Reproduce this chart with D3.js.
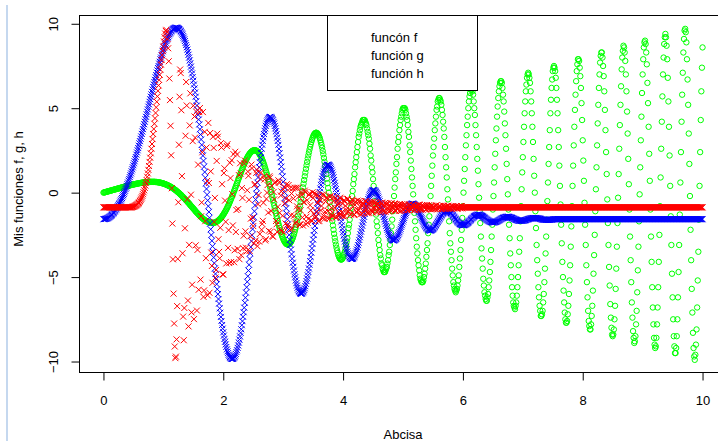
<!DOCTYPE html>
<html>
<head>
<meta charset="utf-8">
<script src="https://cdn.jsdelivr.net/npm/d3@7"></script>
<style>
  body { margin: 0; background: #fff; }
  svg { display: block; font-family: "Liberation Sans", Arial, sans-serif; }
</style>
</head>
<body>
<div id="chart"></div>
<script>
// x runs from 0 to 10, every series sampled every 0.01 (one row per 0.1 below)
const xStep = 0.01;

// función g (green circles)
const gValues = [
  0,.01,.02,.03,.04,.05,.06,.07,.08,.09,
  .1,.11,.12,.13,.14,.15,.16,.17,.18,.19,
  .2,.21,.22,.23,.24,.25,.26,.27,.28,.29,
  .3,.31,.32,.33,.34,.35,.36,.37,.38,.39,
  .39,.4,.41,.42,.43,.44,.45,.46,.47,.48,
  .48,.49,.5,.51,.52,.52,.53,.54,.55,.55,
  .56,.57,.57,.58,.59,.59,.6,.6,.61,.61,
  .62,.62,.63,.63,.63,.63,.64,.64,.64,.64,
  .64,.64,.64,.64,.64,.64,.64,.63,.63,.63,
  .62,.62,.61,.6,.6,.59,.58,.57,.56,.55,
  .54,.53,.52,.5,.49,.47,.46,.44,.42,.41,
  .39,.37,.35,.33,.31,.28,.26,.23,.21,.18,
  .16,.13,.1,.07,.04,.01,-.02,-.05,-.09,-.12,
  -.15,-.19,-.23,-.26,-.3,-.34,-.37,-.41,-.45,-.49,
  -.53,-.57,-.61,-.65,-.69,-.74,-.78,-.82,-.86,-.9,
  -.94,-.98,-1.02,-1.07,-1.11,-1.15,-1.19,-1.22,-1.26,-1.3,
  -1.34,-1.37,-1.41,-1.44,-1.48,-1.51,-1.54,-1.57,-1.6,-1.62,
  -1.65,-1.67,-1.69,-1.71,-1.73,-1.74,-1.76,-1.77,-1.78,-1.79,
  -1.79,-1.79,-1.79,-1.79,-1.79,-1.78,-1.77,-1.75,-1.74,-1.72,
  -1.7,-1.67,-1.64,-1.61,-1.58,-1.54,-1.5,-1.46,-1.41,-1.36,
  -1.31,-1.25,-1.19,-1.13,-1.07,-1,-.93,-.86,-.78,-.71,
  -.63,-.54,-.46,-.37,-.28,-.19,-.1,-.01,.09,.18,
  .28,.38,.48,.57,.67,.77,.87,.97,1.06,1.16,
  1.26,1.35,1.44,1.53,1.62,1.7,1.78,1.86,1.94,2.01,
  2.08,2.14,2.2,2.26,2.31,2.35,2.39,2.43,2.46,2.48,
  2.5,2.51,2.51,2.51,2.5,2.49,2.47,2.44,2.4,2.36,
  2.31,2.25,2.19,2.12,2.04,1.96,1.87,1.77,1.67,1.56,
  1.44,1.32,1.2,1.07,.93,.79,.65,.5,.35,.19,
  .04,-.12,-.28,-.44,-.6,-.76,-.92,-1.07,-1.23,-1.38,
  -1.53,-1.68,-1.82,-1.96,-2.09,-2.22,-2.33,-2.44,-2.55,-2.64,
  -2.73,-2.81,-2.88,-2.94,-2.99,-3.03,-3.05,-3.07,-3.07,-3.07,
  -3.05,-3.02,-2.97,-2.92,-2.85,-2.77,-2.68,-2.57,-2.46,-2.33,
  -2.19,-2.05,-1.89,-1.72,-1.55,-1.36,-1.17,-.97,-.77,-.56,
  -.35,-.13,.09,.31,.53,.75,.97,1.19,1.41,1.62,
  1.82,2.02,2.21,2.39,2.56,2.72,2.87,3,3.12,3.23,
  3.33,3.4,3.47,3.51,3.54,3.55,3.54,3.51,3.47,3.41,
  3.32,3.23,3.11,2.97,2.82,2.66,2.47,2.27,2.06,1.83,
  1.6,1.35,1.1,.83,.56,.28,0,-.29,-.57,-.85,
  -1.13,-1.41,-1.68,-1.94,-2.2,-2.44,-2.67,-2.88,-3.08,-3.26,
  -3.42,-3.57,-3.69,-3.79,-3.87,-3.93,-3.96,-3.96,-3.95,-3.9,
  -3.83,-3.7,-3.6,-3.5,-3.3,-3.1,-2.9,-2.7,-2.4,-2.1,
  -1.9,-1.6,-1.2,-.9,-.6,-.2,.1,.5,.8,1.1,
  1.5,1.8,2.1,2.4,2.7,3,3.3,3.5,3.7,3.9,
  4,4.1,4.2,4.3,4.3,4.3,4.3,4.2,4.1,4,
  3.8,3.6,3.4,3.2,2.9,2.6,2.2,1.9,1.5,1.2,
  .8,.4,0,-.5,-.9,-1.3,-1.7,-2,-2.4,-2.8,
  -3.1,-3.4,-3.7,-3.9,-4.2,-4.3,-4.5,-4.6,-4.7,-4.7,
  -4.7,-4.6,-4.5,-4.4,-4.2,-4,-3.7,-3.5,-3.1,-2.8,
  -2.4,-2,-1.6,-1.1,-.7,-.2,.3,.8,1.2,1.7,
  2.1,2.6,3,3.3,3.7,4,4.3,4.5,4.7,4.9,
  5,5,5,5,4.9,4.7,4.5,4.3,4,3.6,
  3.3,2.8,2.4,1.9,1.4,.9,.4,-.1,-.7,-1.2,
  -1.7,-2.2,-2.7,-3.2,-3.6,-4,-4.3,-4.6,-4.9,-5.1,
  -5.2,-5.3,-5.3,-5.3,-5.2,-5,-4.8,-4.5,-4.2,-3.8,
  -3.4,-3,-2.4,-1.9,-1.4,-.8,-.2,.4,1,1.6,
  2.2,2.7,3.2,3.7,4.1,4.5,4.9,5.1,5.4,5.5,
  5.6,5.6,5.5,5.4,5.2,4.9,4.6,4.2,3.8,3.3,
  2.7,2.1,1.5,.9,.2,-.4,-1.1,-1.7,-2.4,-3,
  -3.5,-4,-4.5,-4.9,-5.3,-5.5,-5.7,-5.8,-5.9,-5.8,
  -5.7,-5.5,-5.2,-4.9,-4.4,-3.9,-3.4,-2.8,-2.2,-1.5,
  -.8,0,.7,1.4,2.1,2.8,3.4,4,4.5,5,
  5.4,5.7,5.9,6.1,6.1,6.1,6,5.8,5.4,5,
  4.6,4,3.4,2.7,2,1.3,.5,-.3,-1.1,-1.8,
  -2.6,-3.3,-3.9,-4.5,-5.1,-5.5,-5.9,-6.1,-6.3,-6.4,
  -6.4,-6.2,-6,-5.6,-5.2,-4.7,-4.1,-3.4,-2.6,-1.9,
  -1,-.2,.6,1.5,2.3,3.1,3.8,4.5,5.1,5.6,
  6,6.3,6.5,6.6,6.6,6.5,6.2,5.8,5.4,4.8,
  4.1,3.4,2.6,1.7,.8,-.1,-1,-1.9,-2.7,-3.6,
  -4.3,-5,-5.6,-6.1,-6.5,-6.7,-6.8,-6.9,-6.7,-6.5,
  -6.1,-5.6,-5,-4.3,-3.5,-2.7,-1.7,-.8,.2,1.2,
  2.1,3,3.9,4.7,5.4,6,6.4,6.8,7,7.1,
  7,6.8,6.5,6,5.4,4.7,3.9,3,2,1,
  0,-1.1,-2.1,-3.1,-4,-4.8,-5.6,-6.2,-6.7,-7,
  -7.3,-7.3,-7.2,-7,-6.5,-6,-5.3,-4.5,-3.6,-2.6,
  -1.6,-.5,.6,1.7,2.7,3.7,4.7,5.5,6.2,6.7,
  7.2,7.4,7.5,7.4,7.2,6.8,6.2,5.5,4.7,3.7,
  2.7,1.6,.4,-.7,-1.9,-3,-4.1,-5,-5.8,-6.5,
  -7.1,-7.5,-7.7,-7.7,-7.6,-7.2,-6.7,-6,-5.2,-4.3,
  -3.2,-2,-.8,.4,1.6,2.8,3.9,4.9,5.8,6.6,
  7.2,7.6,7.9,7.9,7.8,7.4,6.9,6.2,5.3,4.3,
  3.1,1.9,.7,-.6,-1.9,-3.1,-4.3,-5.3,-6.2,-7,
  -7.6,-7.9,-8.1,-8.1,-7.8,-7.3,-6.7,-5.8,-4.8,-3.7,
  -2.5,-1.1,.2,1.5,2.8,4.1,5.2,6.2,7,7.7,
  8.1,8.3,8.3,8,7.5,6.9,6,4.9,3.7,2.4,
  1.1,-.4,-1.8,-3.1,-4.4,-5.5,-6.6,-7.4,-8,-8.4,
  -8.5,-8.4,-8.1,-7.5,-6.7,-5.7,-4.5,-3.2,-1.8,-.3,
  1.1,2.6,4,5.2,6.3,7.3,8,8.4,8.7,8.6,
  8.3,7.8,7,6,4.8,3.5,2,.5,-1,-2.6,
  -4,-5.3,-6.5,-7.4,-8.2,-8.6,-8.9,-8.8,-8.5,-7.8,
  -7,-5.9,-4.6,-3.2,-1.7,-.1,1.5,3.1,4.5,5.9,
  7,7.9,8.6,8.9,9,8.8,8.3,7.6,6.5,5.3,
  3.9,2.3,.7,-1,-2.6,-4.1,-5.6,-6.8,-7.8,-8.6,
  -9,-9.2,-9.1,-8.6,-7.8,-6.8,-5.6,-4.1,-2.5,-.8,
  .9,2.6,4.2,5.7,7,8,8.8,9.2,9.4,9.2,
  8.7,7.9,6.8,5.4,3.9,2.2,.4,-1.4,-3.1,-4.8,
  -6.2,-7.5,-8.5,-9.1,-9.5,-9.5,-9.2,-8.5,-7.5,-6.2,
  -4.7,-3.1,-1.3,.6,2.4,4.2,5.8,7.1,8.3,9.1,
  9.6,9.7,9.5,8.9,7.9,6.7,5.2,3.5,1.7,-.2,
  -2.2,-4,-5.7,-7.1,-8.3,-9.2,-9.7,-9.9,-9.6,-9,
  -8.1,-6.8,-5.2,-3.5,-1.6,.4,2.4,4.3,6,7.4,
  8.6
];

// funcón f (blue crosses)
const fValues = [
  /* 0.0 */ -1.57,-1.57,-1.56,-1.56,-1.55,-1.54,-1.52,-1.51,-1.49,-1.46,
  /* 0.1 */ -1.44,-1.41,-1.38,-1.35,-1.31,-1.27,-1.23,-1.19,-1.14,-1.1,
  /* 0.2 */ -1.04,-.99,-.93,-.88,-.81,-.75,-.68,-.62,-.54,-.47,
  /* 0.3 */ -.39,-.32,-.23,-.15,-.07,.02,.11,.21,.3,.4,
  /* 0.4 */ .5,.6,.71,.81,.92,1.03,1.14,1.26,1.38,1.5,
  /* 0.5 */ 1.62,1.74,1.86,1.99,2.11,2.25,2.38,2.51,2.64,2.78,
  /* 0.6 */ 2.92,3.05,3.19,3.33,3.48,3.62,3.76,3.91,4.05,4.2,
  /* 0.7 */ 4.35,4.49,4.64,4.79,4.93,5.09,5.23,5.38,5.53,5.68,
  /* 0.8 */ 5.82,5.97,6.11,6.26,6.4,6.55,6.68,6.83,6.96,7.11,
  /* 0.9 */ 7.24,7.38,7.5,7.64,7.75,7.89,8,8.13,8.24,8.37,
  /* 1.0 */ 8.48,8.59,8.69,8.79,8.88,8.98,9.06,9.15,9.21,9.3,
  /* 1.1 */ 9.38,9.43,9.49,9.55,9.6,9.65,9.68,9.71,9.73,9.75,
  /* 1.2 */ 9.76,9.77,9.76,9.76,9.74,9.72,9.69,9.66,9.61,9.56,
  /* 1.3 */ 9.5,9.43,9.36,9.27,9.18,9.08,8.98,8.86,8.74,8.61,
  /* 1.4 */ 8.47,8.32,8.17,8,7.83,7.65,7.46,7.27,7.06,6.85,
  /* 1.5 */ 6.63,6.4,6.17,5.93,5.68,5.42,5.16,4.89,4.61,4.33,
  /* 1.6 */ 4.04,3.75,3.44,3.15,2.83,2.52,2.19,1.88,1.54,1.22,
  /* 1.7 */ .88,.55,.22,-.12,-.46,-.8,-1.14,-1.49,-1.83,-2.17,
  /* 1.8 */ -2.51,-2.85,-3.18,-3.51,-3.84,-4.17,-4.49,-4.81,-5.12,-5.42,
  /* 1.9 */ -5.72,-6.01,-6.3,-6.57,-6.85,-7.11,-7.36,-7.6,-7.84,-8.05,
  /* 2.0 */ -8.27,-8.46,-8.66,-8.83,-8.99,-9.14,-9.28,-9.4,-9.5,-9.6,
  /* 2.1 */ -9.68,-9.74,-9.79,-9.83,-9.85,-9.85,-9.84,-9.81,-9.77,-9.71,
  /* 2.2 */ -9.64,-9.55,-9.44,-9.33,-9.19,-9.05,-8.88,-8.7,-8.51,-8.3,
  /* 2.3 */ -8.09,-7.85,-7.61,-7.35,-7.08,-6.81,-6.52,-6.22,-5.92,-5.6,
  /* 2.4 */ -5.28,-4.95,-4.61,-4.27,-3.93,-3.58,-3.22,-2.87,-2.52,-2.16,
  /* 2.5 */ -1.8,-1.45,-1.1,-.75,-.41,-.07,.26,.59,.9,1.21,
  /* 2.6 */ 1.51,1.8,2.08,2.34,2.6,2.84,3.06,3.28,3.47,3.66,
  /* 2.7 */ 3.81,3.96,4.09,4.2,4.29,4.37,4.42,4.47,4.48,4.49,
  /* 2.8 */ 4.46,4.42,4.36,4.29,4.19,4.09,3.95,3.81,3.64,3.46,
  /* 2.9 */ 3.26,3.06,2.83,2.59,2.34,2.08,1.81,1.54,1.25,.96,
  /* 3.0 */ .64,.34,.02,-.3,-.62,-.93,-1.25,-1.57,-1.88,-2.19,
  /* 3.1 */ -2.5,-2.8,-3.09,-3.37,-3.64,-3.91,-4.15,-4.39,-4.61,-4.83,
  /* 3.2 */ -5.01,-5.2,-5.36,-5.5,-5.63,-5.74,-5.83,-5.89,-5.94,-5.97,
  /* 3.3 */ -5.99,-5.98,-5.95,-5.9,-5.84,-5.76,-5.66,-5.54,-5.4,-5.24,
  /* 3.4 */ -5.08,-4.9,-4.7,-4.49,-4.27,-4.05,-3.81,-3.56,-3.3,-3.04,
  /* 3.5 */ -2.78,-2.51,-2.24,-1.97,-1.7,-1.43,-1.17,-.91,-.66,-.42,
  /* 3.6 */ -.19,.04,.25,.46,.65,.82,.98,1.13,1.25,1.36,
  /* 3.7 */ 1.46,1.54,1.59,1.64,1.65,1.66,1.64,1.61,1.56,1.49,
  /* 3.8 */ 1.41,1.31,1.19,1.06,.91,.75,.58,.4,.21,.01,
  /* 3.9 */ -.19,-.4,-.62,-.84,-1.06,-1.28,-1.5,-1.71,-1.93,-2.14,
  /* 4.0 */ -2.34,-2.53,-2.72,-2.89,-3.06,-3.21,-3.35,-3.48,-3.59,-3.68,
  /* 4.1 */ -3.76,-3.83,-3.88,-3.91,-3.93,-3.93,-3.91,-3.88,-3.83,-3.76,
  /* 4.2 */ -3.68,-3.59,-3.49,-3.37,-3.25,-3.11,-2.96,-2.8,-2.64,-2.47,
  /* 4.3 */ -2.3,-2.13,-1.95,-1.77,-1.6,-1.43,-1.26,-1.09,-.93,-.78,
  /* 4.4 */ -.64,-.51,-.38,-.27,-.17,-.09,-.01,.05,.09,.13,
  /* 4.5 */ .14,.15,.14,.12,.08,.03,-.03,-.1,-.19,-.29,
  /* 4.6 */ -.4,-.51,-.63,-.75,-.89,-1.02,-1.16,-1.3,-1.44,-1.58,
  /* 4.7 */ -1.71,-1.85,-1.97,-2.1,-2.21,-2.32,-2.42,-2.5,-2.58,-2.65,
  /* 4.8 */ -2.71,-2.75,-2.79,-2.82,-2.83,-2.82,-2.81,-2.79,-2.75,-2.71,
  /* 4.9 */ -2.65,-2.58,-2.51,-2.42,-2.34,-2.24,-2.14,-2.03,-1.93,-1.82,
  /* 5.0 */ -1.71,-1.6,-1.5,-1.39,-1.29,-1.2,-1.11,-1.02,-.95,-.88,
  /* 5.1 */ -.82,-.76,-.72,-.69,-.67,-.66,-.65,-.66,-.68,-.7,
  /* 5.2 */ -.74,-.78,-.83,-.89,-.95,-1.02,-1.1,-1.18,-1.26,-1.34,
  /* 5.3 */ -1.43,-1.51,-1.59,-1.67,-1.75,-1.83,-1.9,-1.96,-2.02,-2.08,
  /* 5.4 */ -2.12,-2.16,-2.19,-2.22,-2.23,-2.24,-2.24,-2.23,-2.21,-2.19,
  /* 5.5 */ -2.16,-2.12,-2.08,-2.03,-1.97,-1.92,-1.86,-1.79,-1.73,-1.67,
  /* 5.6 */ -1.6,-1.54,-1.48,-1.42,-1.36,-1.31,-1.26,-1.22,-1.18,-1.14,
  /* 5.7 */ -1.12,-1.1,-1.09,-1.09,-1.08,-1.09,-1.1,-1.12,-1.14,-1.18,
  /* 5.8 */ -1.21,-1.25,-1.29,-1.33,-1.38,-1.43,-1.48,-1.53,-1.58,-1.63,
  /* 5.9 */ -1.67,-1.72,-1.76,-1.79,-1.83,-1.86,-1.88,-1.9,-1.92,-1.92,
  /* 6.0 */ -1.93,-1.93,-1.92,-1.91,-1.89,-1.87,-1.85,-1.82,-1.79,-1.76,
  /* 6.1 */ -1.72,-1.68,-1.65,-1.61,-1.57,-1.53,-1.5,-1.47,-1.43,-1.4,
  /* 6.2 */ -1.38,-1.36,-1.34,-1.33,-1.31,-1.31,-1.31,-1.31,-1.31,-1.33,
  /* 6.3 */ -1.34,-1.36,-1.38,-1.4,-1.43,-1.46,-1.48,-1.51,-1.54,-1.57,
  /* 6.4 */ -1.6,-1.62,-1.65,-1.67,-1.69,-1.71,-1.73,-1.74,-1.75,-1.76,
  /* 6.5 */ -1.76,-1.76,-1.76,-1.75,-1.74,-1.73,-1.72,-1.7,-1.68,-1.66,
  /* 6.6 */ -1.64,-1.62,-1.6,-1.57,-1.55,-1.53,-1.51,-1.5,-1.48,-1.47,
  /* 6.7 */ -1.45,-1.44,-1.44,-1.43,-1.43,-1.43,-1.43,-1.44,-1.45,-1.46,
  /* 6.8 */ -1.47,-1.48,-1.5,-1.51,-1.53,-1.55,-1.56,-1.58,-1.59,-1.61,
  /* 6.9 */ -1.62,-1.63,-1.65,-1.66,-1.66,-1.66,-1.67,-1.67,-1.67,-1.67,
  /* 7.0 */ -1.66,-1.66,-1.65,-1.64,-1.63,-1.62,-1.61,-1.59,-1.58,-1.57,
  /* 7.1 */ -1.56,-1.55,-1.54,-1.53,-1.52,-1.51,-1.5,-1.5,-1.5,-1.5,
  /* 7.2 */ -1.5,-1.5,-1.5,-1.51,-1.51,-1.52,-1.53,-1.53,-1.54,-1.55,
  /* 7.3 */ -1.56,-1.57,-1.58,-1.59,-1.6,-1.6,-1.61,-1.61,-1.62,-1.62,
  /* 7.4 */ -1.62,-1.62,-1.62,-1.62,-1.62,-1.61,-1.61,-1.6,-1.6,-1.59,
  /* 7.5 */ -1.58,-1.57,-1.57,-1.57,-1.57,-1.57,-1.57,-1.57,-1.57,-1.57,
  /* 7.6 */ -1.57,-1.57,-1.57,-1.57,-1.57,-1.57,-1.57,-1.57,-1.57,-1.57,
  /* 7.7 */ -1.57,-1.57,-1.57,-1.57,-1.57,-1.57,-1.57,-1.57,-1.57,-1.57,
  /* 7.8 */ -1.57,-1.57,-1.57,-1.57,-1.57,-1.57,-1.57,-1.57,-1.57,-1.57,
  /* 7.9 */ -1.57,-1.57,-1.57,-1.57,-1.57,-1.57,-1.57,-1.57,-1.57,-1.57,
  /* 8.0 */ -1.57,-1.57,-1.57,-1.57,-1.57,-1.57,-1.57,-1.57,-1.57,-1.57,
  /* 8.1 */ -1.57,-1.57,-1.57,-1.57,-1.57,-1.57,-1.57,-1.57,-1.57,-1.57,
  /* 8.2 */ -1.57,-1.57,-1.57,-1.57,-1.57,-1.57,-1.57,-1.57,-1.57,-1.57,
  /* 8.3 */ -1.57,-1.57,-1.57,-1.57,-1.57,-1.57,-1.57,-1.57,-1.57,-1.57,
  /* 8.4 */ -1.57,-1.57,-1.57,-1.57,-1.57,-1.57,-1.57,-1.57,-1.57,-1.57,
  /* 8.5 */ -1.57,-1.57,-1.57,-1.57,-1.57,-1.57,-1.57,-1.57,-1.57,-1.57,
  /* 8.6 */ -1.57,-1.57,-1.57,-1.57,-1.57,-1.57,-1.57,-1.57,-1.57,-1.57,
  /* 8.7 */ -1.57,-1.57,-1.57,-1.57,-1.57,-1.57,-1.57,-1.57,-1.57,-1.57,
  /* 8.8 */ -1.57,-1.57,-1.57,-1.57,-1.57,-1.57,-1.57,-1.57,-1.57,-1.57,
  /* 8.9 */ -1.57,-1.57,-1.57,-1.57,-1.57,-1.57,-1.57,-1.57,-1.57,-1.57,
  /* 9.0 */ -1.57,-1.57,-1.57,-1.57,-1.57,-1.57,-1.57,-1.57,-1.57,-1.57,
  /* 9.1 */ -1.57,-1.57,-1.57,-1.57,-1.57,-1.57,-1.57,-1.57,-1.57,-1.57,
  /* 9.2 */ -1.57,-1.57,-1.57,-1.57,-1.57,-1.57,-1.57,-1.57,-1.57,-1.57,
  /* 9.3 */ -1.57,-1.57,-1.57,-1.57,-1.57,-1.57,-1.57,-1.57,-1.57,-1.57,
  /* 9.4 */ -1.57,-1.57,-1.57,-1.57,-1.57,-1.57,-1.57,-1.57,-1.57,-1.57,
  /* 9.5 */ -1.57,-1.57,-1.57,-1.57,-1.57,-1.57,-1.57,-1.57,-1.57,-1.57,
  /* 9.6 */ -1.57,-1.57,-1.57,-1.57,-1.57,-1.57,-1.57,-1.57,-1.57,-1.57,
  /* 9.7 */ -1.57,-1.57,-1.57,-1.57,-1.57,-1.57,-1.57,-1.57,-1.57,-1.57,
  /* 9.8 */ -1.57,-1.57,-1.57,-1.57,-1.57,-1.57,-1.57,-1.57,-1.57,-1.57,
  /* 9.9 */ -1.57,-1.57,-1.57,-1.57,-1.57,-1.57,-1.57,-1.57,-1.57,-1.57,
  /* 10 */ -1.57
];

// función h (red crosses)
const hValues = [
  /* 0.0 */ -.87,-.87,-.87,-.87,-.87,-.87,-.87,-.87,-.87,-.87,
  /* 0.1 */ -.87,-.87,-.87,-.87,-.87,-.87,-.87,-.87,-.87,-.87,
  /* 0.2 */ -.87,-.87,-.87,-.87,-.87,-.87,-.87,-.87,-.87,-.87,
  /* 0.3 */ -.87,-.87,-.87,-.87,-.87,-.87,-.87,-.87,-.87,-.87,
  /* 0.4 */ -.87,-.87,-.87,-.87,-.87,-.87,-.87,-.87,-.85,-.84,
  /* 0.5 */ -.83,-.82,-.8,-.78,-.76,-.74,-.71,-.68,-.64,-.6,
  /* 0.6 */ -.55,-.49,-.43,-.36,-.28,-.19,-.09,.02,.14,.28,
  /* 0.7 */ .42,.58,.75,.94,1.14,1.35,1.58,1.82,2.07,2.33,
  /* 0.8 */ 2.6,2.88,3.17,3.47,3.77,4.08,4.4,4.72,5.05,5.38,
  /* 0.9 */ 5.7,6.03,6.35,6.67,6.98,7.28,7.58,7.86,8.14,8.4,
  /* 1.0 */ 8.65,8.95,9.2,9.42,9.58,9.64,9.5,9.1,8.55,7.78,
  /* 1.1 */ 6.76,5.48,3.96,2.21,.26,-1.83,-3.95,-5.98,-7.75,-9.11,
  /* 1.2 */ -9.8,-9.71,-8.69,-6.72,-3.92,-.57,2.84,5.68,7.29,7.08,
  /* 1.3 */ 4.88,.98,-3.59,-7.34,-8.74,-6.83,-2.11,3.37,6.55,5.16,
  /* 1.4 */ -.39,-6.39,-7.92,-3.09,3.98,5.88,-.12,-7.09,-5.45,3.05,
  /* 1.5 */ 5.15,-7.49,4.51,3.26,-3.12,4.79,-6.98,-3.39,1.66,-5.75,
  /* 1.6 */ 4.77,5.01,-5.15,-1.4,-.58,2.39,4.77,-6.17,-5.79,3.6,
  /* 1.7 */ -1.69,-3.88,2.67,.69,-6.08,4.13,.57,-5.93,3.53,1.26,
  /* 1.8 */ -3.55,-4.34,-5.34,3.31,2.65,-1.73,-.31,-5.03,-4.58,1.88,
  /* 1.9 */ 3.49,3.31,-2.76,-3.51,-3.89,-2.08,2.93,2.67,.5,-4.84,
  /* 2.0 */ -4.85,1.16,1.44,-.47,-1.73,-4.19,2.76,2.87,-3.27,-2.22,
  /* 2.1 */ -4.17,1.77,.86,-4.11,1.92,-.09,-1.94,2.28,-4.12,-3.41,
  /* 2.2 */ 2.42,-2.33,-1.03,2.26,-3.33,-.97,1.04,-3.94,1.74,1.13,
  /* 2.3 */ -3.7,.27,-.31,-3.29,-2.55,1.73,1.9,-2.29,-3.26,-3.48,
  /* 2.4 */ .14,1.25,1,-.42,-3.45,-2.59,-1.54,1.66,1.44,-1.47,
  /* 2.5 */ -1.98,-3.01,.46,.5,-2.84,1.17,1.36,-3.17,-.69,-.14,
  /* 2.6 */ -2.9,-2.45,.82,1.19,-2.2,-1.85,-1.67,-.6,.96,.78,
  /* 2.7 */ -2.83,-2.75,-.37,0,.45,-1.18,-2.26,.97,.88,-2.32,
  /* 2.8 */ -1.09,.39,-2.57,-2.61,.04,-.4,.56,.64,-1.68,-1.87,
  /* 2.9 */ -2.32,-.84,.73,.59,-1.19,-2.22,-.17,.07,-2.27,-1.37,
  /* 3.0 */ .19,-2.35,-.65,.31,-1.83,-.35,.5,-1.91,-2.03,.45,
  /* 3.1 */ -.45,.24,-2.19,-1.34,-.05,-2.13,.25,-.35,-1.37,.29,
  /* 3.2 */ -1.83,-1.75,.29,-.81,-.98,.3,-.23,-1.88,-1.92,-1.04,
  /* 3.3 */ .02,-.14,-1.47,-1.95,-.56,-.57,.12,.03,-1.87,-1.42,
  /* 3.4 */ -.45,-1.79,-1.56,-.14,-.04,-.75,-1.04,-1.63,-1.69,.02,
  /* 3.5 */ -.32,-1.26,-.04,-1.49,-1.39,-.09,-1.11,-.59,-.16,-1.69,
  /* 3.6 */ -1.66,-.39,-.47,-1.05,-.79,-.12,-1.52,-1.36,-.13,-1.55,
  /* 3.7 */ -1.14,-.51,-.34,-.29,-1.51,-1.09,-.72,-1.54,-.25,-.2,
  /* 3.8 */ -1.37,-.9,-1.16,-1.38,-.26,-.48,-.89,-.33,-1.48,-1.45,
  /* 3.9 */ -.47,-.75,-.65,-1.21,-1.35,-.3,-.36,-1.36,-1.15,-.66,
  /* 4.0 */ -1.39,-.48,-.45,-1.4,-.78,-1.01,-1.21,-.39,-.37,-1.1,
  /* 4.1 */ -.99,-.59,-1.3,-1.28,-.6,-.41,-.47,-.83,-1.33,-1.29,
  /* 4.2 */ -.73,-.52,-1.18,-1.14,-.47,-1.03,-1.06,-.5,-.82,-1.28,
  /* 4.3 */ -.54,-.77,-1.24,-.6,-.7,-1.15,-.93,-.51,-.5,-.92,
  /* 4.4 */ -1.16,-1.22,-.62,-.68,-1.21,-.58,-.78,-1.04,-.57,-1.17,
  /* 4.5 */ -1.06,-.54,-.86,-.94,-.58,-.73,-1.13,-1.16,-.68,-.65,
  /* 4.6 */ -.97,-.82,-1.17,-1.07,-.64,-.59,-.77,-1.11,-1.08,-.78,
  /* 4.7 */ -.61,-1.14,-.65,-.7,-.96,-.64,-1.12,-.97,-.77,-1.07,
  /* 4.8 */ -.64,-.63,-1.04,-.89,-.86,-.74,-.64,-1.08,-1.07,-.69,
  /* 4.9 */ -.9,-.99,-.72,-.81,-1.08,-.67,-.81,-1.08,-.69,-.78,
  /* 5.0 */ -.98,-1.01,-1.05,-.7,-.73,-.9,-.85,-1.04,-1.02,-.76,
  /* 5.1 */ -.7,-.7,-.95,-.98,-1,-.92,-.72,-.73,-.81,-1.03,
  /* 5.2 */ -1.04,-.78,-.78,-.85,-.91,-1.01,-.72,-.71,-.97,-.92,
  /* 5.3 */ -1.01,-.76,-.8,-1.01,-.76,-.84,-.91,-.74,-1,-.98,
  /* 5.4 */ -.73,-.93,-.88,-.75,-.97,-.87,-.79,-1,-.77,-.79,
  /* 5.5 */ -.98,-.82,-.85,-.97,-.94,-.76,-.75,-.93,-.96,-.97,
  /* 5.6 */ -.83,-.78,-.79,-.85,-.98,-.94,-.9,-.77,-.78,-.89,
  /* 5.7 */ -.92,-.96,-.81,-.81,-.95,-.78,-.78,-.96,-.86,-.84,
  /* 5.8 */ -.95,-.93,-.8,-.79,-.93,-.91,-.9,-.86,-.8,-.81,
  /* 5.9 */ -.95,-.94,-.85,-.83,-.82,-.88,-.93,-.79,-.79,-.93,
  /* 6.0 */ -.88,-.87,-.87,-.87,-.87,-.87,-.87,-.87,-.87,-.87,
  /* 6.1 */ -.87,-.87,-.87,-.87,-.87,-.87,-.87,-.87,-.87,-.87,
  /* 6.2 */ -.87,-.87,-.87,-.87,-.87,-.87,-.87,-.87,-.87,-.87,
  /* 6.3 */ -.87,-.87,-.87,-.87,-.87,-.87,-.87,-.87,-.87,-.87,
  /* 6.4 */ -.87,-.87,-.87,-.87,-.87,-.87,-.87,-.87,-.87,-.87,
  /* 6.5 */ -.87,-.87,-.87,-.87,-.87,-.87,-.87,-.87,-.87,-.87,
  /* 6.6 */ -.87,-.87,-.87,-.87,-.87,-.87,-.87,-.87,-.87,-.87,
  /* 6.7 */ -.87,-.87,-.87,-.87,-.87,-.87,-.87,-.87,-.87,-.87,
  /* 6.8 */ -.87,-.87,-.87,-.87,-.87,-.87,-.87,-.87,-.87,-.87,
  /* 6.9 */ -.87,-.87,-.87,-.87,-.87,-.87,-.87,-.87,-.87,-.87,
  /* 7.0 */ -.87,-.87,-.87,-.87,-.87,-.87,-.87,-.87,-.87,-.87,
  /* 7.1 */ -.87,-.87,-.87,-.87,-.87,-.87,-.87,-.87,-.87,-.87,
  /* 7.2 */ -.87,-.87,-.87,-.87,-.87,-.87,-.87,-.87,-.87,-.87,
  /* 7.3 */ -.87,-.87,-.87,-.87,-.87,-.87,-.87,-.87,-.87,-.87,
  /* 7.4 */ -.87,-.87,-.87,-.87,-.87,-.87,-.87,-.87,-.87,-.87,
  /* 7.5 */ -.87,-.87,-.87,-.87,-.87,-.87,-.87,-.87,-.87,-.87,
  /* 7.6 */ -.87,-.87,-.87,-.87,-.87,-.87,-.87,-.87,-.87,-.87,
  /* 7.7 */ -.87,-.87,-.87,-.87,-.87,-.87,-.87,-.87,-.87,-.87,
  /* 7.8 */ -.87,-.87,-.87,-.87,-.87,-.87,-.87,-.87,-.87,-.87,
  /* 7.9 */ -.87,-.87,-.87,-.87,-.87,-.87,-.87,-.87,-.87,-.87,
  /* 8.0 */ -.87,-.87,-.87,-.87,-.87,-.87,-.87,-.87,-.87,-.87,
  /* 8.1 */ -.87,-.87,-.87,-.87,-.87,-.87,-.87,-.87,-.87,-.87,
  /* 8.2 */ -.87,-.87,-.87,-.87,-.87,-.87,-.87,-.87,-.87,-.87,
  /* 8.3 */ -.87,-.87,-.87,-.87,-.87,-.87,-.87,-.87,-.87,-.87,
  /* 8.4 */ -.87,-.87,-.87,-.87,-.87,-.87,-.87,-.87,-.87,-.87,
  /* 8.5 */ -.87,-.87,-.87,-.87,-.87,-.87,-.87,-.87,-.87,-.87,
  /* 8.6 */ -.87,-.87,-.87,-.87,-.87,-.87,-.87,-.87,-.87,-.87,
  /* 8.7 */ -.87,-.87,-.87,-.87,-.87,-.87,-.87,-.87,-.87,-.87,
  /* 8.8 */ -.87,-.87,-.87,-.87,-.87,-.87,-.87,-.87,-.87,-.87,
  /* 8.9 */ -.87,-.87,-.87,-.87,-.87,-.87,-.87,-.87,-.87,-.87,
  /* 9.0 */ -.87,-.87,-.87,-.87,-.87,-.87,-.87,-.87,-.87,-.87,
  /* 9.1 */ -.87,-.87,-.87,-.87,-.87,-.87,-.87,-.87,-.87,-.87,
  /* 9.2 */ -.87,-.87,-.87,-.87,-.87,-.87,-.87,-.87,-.87,-.87,
  /* 9.3 */ -.87,-.87,-.87,-.87,-.87,-.87,-.87,-.87,-.87,-.87,
  /* 9.4 */ -.87,-.87,-.87,-.87,-.87,-.87,-.87,-.87,-.87,-.87,
  /* 9.5 */ -.87,-.87,-.87,-.87,-.87,-.87,-.87,-.87,-.87,-.87,
  /* 9.6 */ -.87,-.87,-.87,-.87,-.87,-.87,-.87,-.87,-.87,-.87,
  /* 9.7 */ -.87,-.87,-.87,-.87,-.87,-.87,-.87,-.87,-.87,-.87,
  /* 9.8 */ -.87,-.87,-.87,-.87,-.87,-.87,-.87,-.87,-.87,-.87,
  /* 9.9 */ -.87,-.87,-.87,-.87,-.87,-.87,-.87,-.87,-.87,-.87,
  /* 10 */ -.87
];

const xTicks = [0, 2, 4, 6, 8, 10];
const yTicks = [-10, -5, 0, 5, 10];
const legendLabels = ["funcón f", "función g", "función h"];

const svg = d3.select("#chart")
  .append("svg")
  .attr("width", 718)
  .attr("height", 441);

const x = d3.scaleLinear().domain([-0.4, 10.4]).range([79.5, 726.5]);
const y = d3.scaleLinear().domain([-10.65, 10.49]).range([372.5, 15.5]);

// edge of the window the picture was taken from
svg.append("line")
  .attr("x1", 7).attr("x2", 7)
  .attr("y1", 5).attr("y2", 441)
  .attr("stroke", "#c5d8ef")
  .attr("stroke-width", 2);

// g first, then f, then h on top
svg.append("g")
  .selectAll("circle")
  .data(gValues)
  .join("circle")
  .attr("cx", (d, i) => x(i * xStep))
  .attr("cy", (d) => y(d))
  .attr("r", 2.7)
  .attr("fill", "none")
  .attr("stroke", "#00ff00");

const cross = "M-3,-3L3,3M-3,3L3,-3";
[
  [fValues, "#0000ff"],
  [hValues, "#ff0000"],
].forEach(([values, color]) => {
  svg.append("g")
    .selectAll("path")
    .data(values)
    .join("path")
    .attr("d", cross)
    .attr("transform", (d, i) => `translate(${x(i * xStep)},${y(d)})`)
    .attr("fill", "none")
    .attr("stroke", color);
});

// plot box
svg.append("rect")
  .attr("x", 79.5).attr("y", 15.5)
  .attr("width", 647).attr("height", 357)
  .attr("fill", "none")
  .attr("stroke", "#000");

const xAxis = svg.append("g")
  .attr("transform", "translate(0,372.5)")
  .call(d3.axisBottom(x).tickValues(xTicks).tickSize(8).tickPadding(15).tickSizeOuter(0));
xAxis.select(".domain").remove();

const yAxis = svg.append("g")
  .attr("transform", "translate(79.5,0)")
  .call(d3.axisLeft(y).tickValues(yTicks).tickSize(8).tickSizeOuter(0));
yAxis.select(".domain").remove();
yAxis.selectAll("text")
  .attr("transform", "rotate(-90)")
  .attr("x", 0)
  .attr("y", -21.5)
  .attr("dy", 0)
  .attr("text-anchor", "middle");

svg.selectAll(".tick line").attr("stroke", "#000");
svg.selectAll(".tick text")
  .attr("fill", "#000")
  .style("font-size", "13px")
  .style("font-family", '"Liberation Sans", Arial, sans-serif');

svg.append("text")
  .attr("x", 403).attr("y", 439)
  .attr("text-anchor", "middle")
  .style("font-size", "13px")
  .text("Abcisa");

svg.append("text")
  .attr("transform", "translate(23,189) rotate(-90)")
  .attr("text-anchor", "middle")
  .style("font-size", "13px")
  .text("Mis funciones f, g, h");

// legend, text only
const legend = svg.append("g");
legend.append("rect")
  .attr("x", 327.5).attr("y", 15.5)
  .attr("width", 150).attr("height", 75)
  .attr("fill", "#fff")
  .attr("stroke", "#000");
legend.selectAll("text")
  .data(legendLabels)
  .join("text")
  .attr("x", 371)
  .attr("y", (d, i) => 41.5 + i * 18.4)
  .style("font-size", "13px")
  .text((d) => d);
</script>
</body>
</html>
